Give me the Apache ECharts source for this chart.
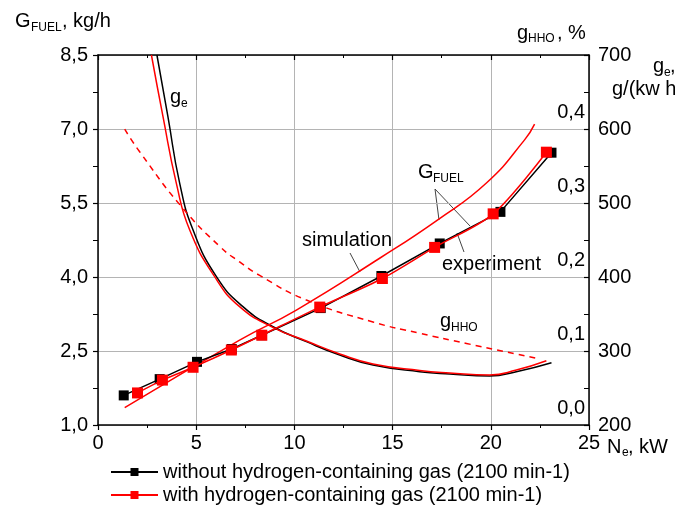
<!DOCTYPE html>
<html><head><meta charset="utf-8">
<script src="https://cdn.jsdelivr.net/npm/echarts@6/dist/echarts.min.js"></script>
<style>html,body{margin:0;padding:0;background:#fff}#c{width:675px;height:505px}</style>
</head><body><div id="c"></div>
<script>
// ---- data ----
const xTickLabels = ['0','5','10','15','20','25'];
const fuelTickLabels = ['1,0','2,5','4,0','5,5','7,0','8,5'];
const geTickLabels = ['200','300','400','500','600','700'];
const hhoTicks = [0, 0.1, 0.2, 0.3, 0.4];
const hhoTickLabels = ['0,0','0,1','0,2','0,3','0,4'];

const legendNames = ['without hydrogen-containing gas (2100 min-1)', 'with hydrogen-containing gas (2100 min-1)'];

// G_FUEL experiment, kg/h
const fuelWithoutX = [1.31, 3.14, 5.04, 6.81, 8.34, 11.34, 14.43, 17.40, 20.49, 23.09];
const fuelWithoutY = [1.60, 1.93, 2.28, 2.54, 2.82, 3.37, 4.02, 4.68, 5.32, 6.52];
const fuelWithX = [2.01, 3.28, 4.84, 6.79, 8.34, 11.29, 14.48, 17.14, 20.12, 22.83];
const fuelWithY = [1.65, 1.91, 2.17, 2.52, 2.82, 3.39, 3.97, 4.60, 5.28, 6.53];
// G_FUEL simulation
const simX = [1.36, 7.21, 10.10, 14.34, 17.30, 19.79, 21.72, 22.23];
const simY = [1.35, 2.72, 3.33, 4.38, 5.16, 5.91, 6.78, 7.10];
// g_e, g/(kW h)
const geWithoutX = [3.00, 3.56, 4.16, 4.84, 6.03, 7.38, 8.91, 10.61, 12.31, 14.00, 16.38, 17.91, 19.94, 21.30, 23.09];
const geWithoutY = [700, 616.6, 526.6, 463.5, 400.4, 359.9, 332.8, 312.6, 294.6, 281.1, 272.0, 268.9, 266.2, 272.0, 284.2];
const geWithX = [2.72, 3.31, 3.99, 4.67, 5.94, 7.21, 8.90, 10.61, 12.31, 14.00, 16.38, 17.91, 19.94, 21.30, 22.83];
const geWithY = [700, 616.6, 526.6, 463.5, 400.4, 359.9, 332.0, 313.5, 296.0, 282.4, 273.6, 270.3, 267.6, 274.3, 286.9];
// g_HHO, %
const hhoX = [1.36, 2.12, 4.25, 6.20, 7.21, 8.23, 10.61, 14.00, 16.38, 18.76, 22.32];
const hhoY = [0.378, 0.3475, 0.273, 0.219, 0.198, 0.1797, 0.1464, 0.1166, 0.1013, 0.0875, 0.0674];

const zip = (a, b) => a.map((v, i) => [v, b[i]]);

const FONT = '"Liberation Sans", Arial, sans-serif';
const RED = '#ff0000';
const GRIDC = '#b4b4b4';

const chart = echarts.init(document.getElementById('c'));

function txt(x, y, s, size) {
  return {
    type: 'text', x: x, y: y, silent: true,
    style: { text: s, fontSize: size, fontFamily: FONT, fill: '#000', verticalAlign: 'middle', align: 'left' }
  };
}
function seg(x1, y1, x2, y2) {
  return { type: 'line', silent: true, shape: { x1, y1, x2, y2 }, style: { stroke: '#444', lineWidth: 1 } };
}
function legendAt(name, top) {
  return {
    data: [name], orient: 'horizontal', left: 110, top: top,
    itemWidth: 47, itemHeight: 10, itemGap: 0, padding: 0,
    textStyle: { fontSize: 20, color: '#000', fontFamily: FONT },
    selectedMode: false
  };
}

const option = {
  animation: false,
  backgroundColor: '#fff',
  textStyle: { fontFamily: FONT },
  grid: { left: 98, right: 86, top: 55, bottom: 80, containLabel: false },
  legend: [legendAt(legendNames[0], 462), legendAt(legendNames[1], 485)],
  xAxis: [
    {
      type: 'value', min: 0, max: 25, interval: 5, position: 'bottom',
      axisLine: { onZero: false, lineStyle: { color: '#000', width: 1.5 } },
      axisTick: { length: 5, lineStyle: { color: '#000', width: 1.2 } },
      minorTick: { show: true, splitNumber: 2, length: 3, lineStyle: { color: '#000', width: 1 } },
      splitLine: { show: true, lineStyle: { color: GRIDC, width: 1 } },
      axisLabel: { fontSize: 20, color: '#000', margin: 8, fontFamily: FONT,
        formatter: v => xTickLabels[Math.round(v / 5)] }
    },
    {
      type: 'value', min: 0, max: 25, interval: 5, position: 'top',
      axisLine: { onZero: false, lineStyle: { color: '#000', width: 1.5 } },
      axisTick: { inside: true, length: 5, lineStyle: { color: '#000', width: 1.2 } },
      minorTick: { show: true, splitNumber: 2, length: 3, lineStyle: { color: '#000', width: 1 } },
      splitLine: { show: false },
      axisLabel: { show: false }
    }
  ],
  yAxis: [
    {
      type: 'value', min: 1, max: 8.5, interval: 1.5, position: 'left',
      axisLine: { show: true, onZero: false, lineStyle: { color: '#000', width: 1.5 } },
      axisTick: { show: true, length: 5, lineStyle: { color: '#000', width: 1.2 } },
      minorTick: { show: true, splitNumber: 2, length: 5, lineStyle: { color: '#000', width: 1 } },
      splitLine: { show: true, lineStyle: { color: GRIDC, width: 1 } },
      axisLabel: { fontSize: 20, color: '#000', margin: 10, fontFamily: FONT,
        formatter: v => fuelTickLabels[Math.round((v - 1) / 1.5)] }
    },
    {
      type: 'value', min: 200, max: 700, interval: 100, position: 'right',
      axisLine: { show: true, onZero: false, lineStyle: { color: '#000', width: 1.5 } },
      axisTick: { show: true, inside: true, length: 5, lineStyle: { color: '#000', width: 1.2 } },
      minorTick: { show: true, splitNumber: 2, length: 5, lineStyle: { color: '#000', width: 1 } },
      splitLine: { show: false },
      axisLabel: { fontSize: 20, color: '#000', margin: 9, fontFamily: FONT,
        formatter: v => geTickLabels[Math.round((v - 200) / 100)] }
    },
    {
      type: 'value', min: -0.02305, max: 0.4786, position: 'right',
      axisLine: { show: false }, axisTick: { show: false }, splitLine: { show: false },
      axisLabel: { inside: true, fontSize: 20, color: '#000', margin: 4, fontFamily: FONT,
        customValues: hhoTicks,
        formatter: v => hhoTickLabels[Math.round(v * 10)] }
    }
  ],
  series: [
    {
      name: 'ge without', type: 'line', xAxisIndex: 0, yAxisIndex: 1, symbol: 'none', smooth: 0.5,
      data: zip(geWithoutX, geWithoutY), lineStyle: { color: '#000', width: 1.5 }, z: 3
    },
    {
      name: 'ge with', type: 'line', xAxisIndex: 0, yAxisIndex: 1, symbol: 'none', smooth: 0.5,
      data: zip(geWithX, geWithY), lineStyle: { color: RED, width: 1.5 }, z: 4
    },
    {
      name: 'gHHO', type: 'line', xAxisIndex: 0, yAxisIndex: 2, symbol: 'none', smooth: 0.5,
      data: zip(hhoX, hhoY), lineStyle: { color: RED, width: 1.5, type: [6, 5] }, z: 4
    },
    {
      name: 'simulation', type: 'line', xAxisIndex: 0, yAxisIndex: 0, symbol: 'none', smooth: 0.5,
      data: zip(simX, simY), lineStyle: { color: RED, width: 1.5 }, z: 4
    },
    {
      name: legendNames[0], type: 'line', xAxisIndex: 0, yAxisIndex: 0, smooth: false,
      symbol: 'rect', symbolSize: 10,
      data: zip(fuelWithoutX, fuelWithoutY),
      itemStyle: { color: '#000' }, lineStyle: { color: '#000', width: 1.5 }, z: 5
    },
    {
      name: legendNames[1], type: 'line', xAxisIndex: 0, yAxisIndex: 0, smooth: 0.3,
      symbol: 'rect', symbolSize: 11,
      data: zip(fuelWithX, fuelWithY),
      itemStyle: { color: RED }, lineStyle: { color: RED, width: 1.5 }, z: 6
    }
  ],
  graphic: [
    txt(15, 21.5, 'G', 20),
    txt(31, 27.5, 'FUEL', 12),
    txt(62, 21.5, ', kg/h', 20),
    txt(517, 33, 'g', 20),
    txt(528, 39, 'HHO', 12),
    txt(557, 33, ', %', 20),
    txt(653, 66, 'g', 20),
    txt(664, 73, 'e', 12),
    txt(670, 66, ',', 20),
    txt(612, 89, 'g/(kw h)', 20),
    txt(607, 447, 'N', 20),
    txt(622, 453, 'e', 12),
    txt(628, 447, ', kW', 20),
    txt(170, 97, 'g', 20),
    txt(181, 104, 'e', 12),
    txt(302, 240, 'simulation', 20),
    seg(350, 253, 360, 272),
    txt(418, 172, 'G', 20),
    txt(433, 179, 'FUEL', 12),
    seg(435, 189, 439, 220),
    seg(435, 189, 470, 226),
    txt(442, 264, 'experiment', 20),
    seg(457, 233, 464, 252),
    txt(440, 321, 'g', 20),
    txt(451, 328, 'HHO', 12)
  ]
};
chart.setOption(option);
</script>
</body></html>
